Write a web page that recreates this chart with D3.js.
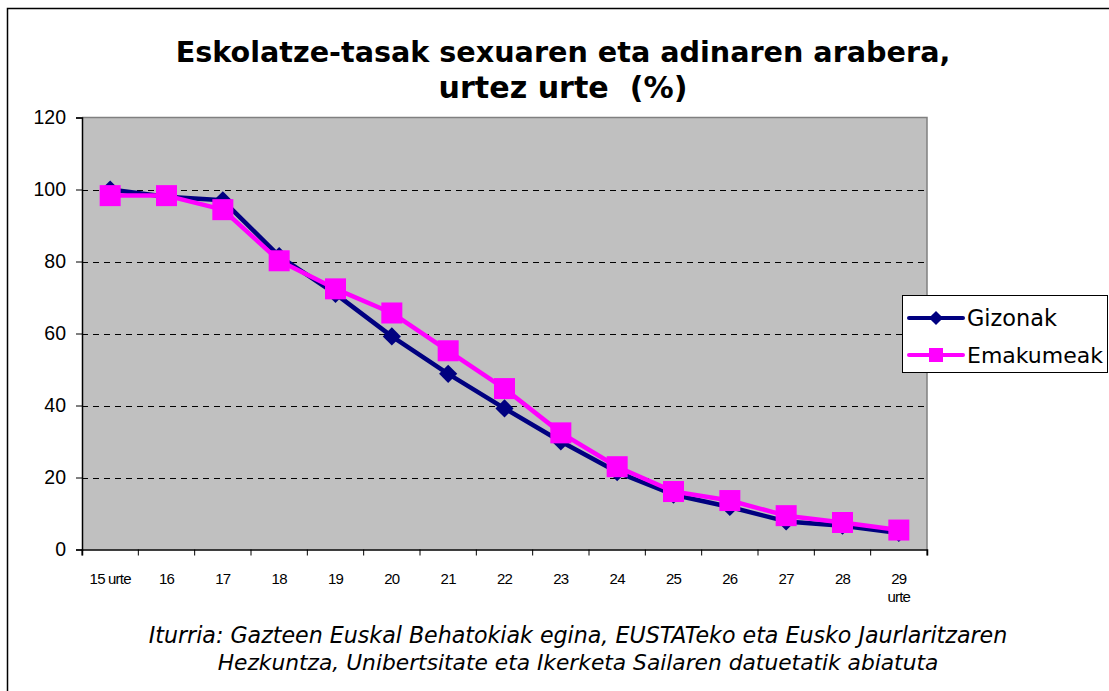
<!DOCTYPE html>
<html><head><meta charset="utf-8">
<script src="https://cdn.jsdelivr.net/npm/d3@7"></script>
<style>html,body{margin:0;padding:0;background:#fff;}svg{display:block;}</style>
</head><body>
<svg id="chart" width="1109" height="691"></svg>
<script>
const categories = ["15 urte","16","17","18","19","20","21","22","23","24","25","26","27","28","29\nurte"];
const gizonak    = [100, 98, 97, 81.5, 71, 59.2, 48.8, 39.2, 30, 21.5, 15.2, 11.8, 7.8, 6.6, 4.6];
const emakumeak  = [98.3, 98.3, 94.4, 80.2, 72.4, 65.7, 55.2, 44.7, 32.4, 23, 16.1, 13.6, 9.4, 7.5, 5.4];
const yTicks     = [0, 20, 40, 60, 80, 100, 120];
const titleLines = ["Eskolatze-tasak sexuaren eta adinaren arabera,", "urtez urte  (%)"];
const footLines  = ["Iturria: Gazteen Euskal Behatokiak egina, EUSTATeko eta Eusko Jaurlaritzaren",
                    "Hezkuntza, Unibertsitate eta Ikerketa Sailaren datuetatik abiatuta"];
const seriesNames = ["Gizonak", "Emakumeak"];

const svg = d3.select("#chart");
svg.append("rect").attr("x",7.5).attr("y",8.5).attr("width",1120).attr("height",700)
  .attr("fill","#fff").attr("stroke","#000").attr("stroke-width",1.5);

const L = 82, R = 927, T = 117.5, B = 549.5;
const x = d3.scaleBand().domain(categories).range([L, R]).padding(0);
const y = d3.scaleLinear().domain([0,120]).range([B, T]);

function fit(sel, w){
  const n = sel.node(); let fs = parseFloat(sel.attr("font-size"));
  const cw = n.getComputedTextLength(); if (cw>0) sel.attr("font-size", fs*w/cw);
}

// title
const tw = [775, 249];
titleLines.forEach((t,i)=>{
  const s = svg.append("text").attr("x",563).attr("y", i===0?62:98).attr("text-anchor","middle")
    .attr("font-family","DejaVu Sans, Verdana, sans-serif").attr("font-weight","bold")
    .attr("font-size",24).style("white-space","pre").attr("fill","#000").text(t);
  fit(s, tw[i]);
});

// plot background
svg.append("rect").attr("x",L).attr("y",T).attr("width",R-L).attr("height",B-T).attr("fill","#c0c0c0");
// gridlines
svg.append("g").selectAll("line").data(yTicks.filter(d=>d>0 && d<120)).join("line")
  .attr("x1",L).attr("x2",R).attr("y1",d=>Math.round(y(d))+0.5).attr("y2",d=>Math.round(y(d))+0.5)
  .attr("stroke","#000").attr("stroke-dasharray","6,5").attr("stroke-width",1);
// plot border top/right
svg.append("path").attr("d",`M${L},${T}H${R}V${B}`).attr("fill","none").attr("stroke","#808080").attr("stroke-width",1.5);

// y axis
const yAxis = d3.axisLeft(y).tickValues(yTicks).tickSize(6).tickPadding(10);
const gy = svg.append("g").attr("transform",`translate(${L},0)`).call(yAxis);
gy.select(".domain").attr("stroke","#000").attr("stroke-width",1.5);
gy.selectAll(".tick line").attr("stroke","#000");
gy.selectAll("text").attr("font-family","Liberation Sans, Arial, sans-serif").attr("font-size",19.5).attr("fill","#000");

// x axis
const xAxis = d3.axisBottom(x).tickSize(6).tickFormat(()=>"");
const gx = svg.append("g").attr("transform",`translate(0,${B})`).call(xAxis);
gx.select(".domain").attr("stroke","#000").attr("stroke-width",1.5);
gx.selectAll(".tick").remove();
gx.selectAll("line.bt").data(categories.map((c,i)=>i).concat([categories.length])).join("line").attr("class","bt")
  .attr("x1",i=>L + i*x.bandwidth()).attr("x2",i=>L + i*x.bandwidth()).attr("y1",0).attr("y2",6).attr("stroke","#000");
const lab = svg.append("g");
categories.forEach(c=>{
  const parts = c.split("\n");
  const t = lab.append("text").attr("x", x(c)+x.bandwidth()/2).attr("y",584).attr("text-anchor","middle")
    .attr("font-family","Liberation Sans, Arial, sans-serif").attr("font-size",15).attr("fill","#000").attr("letter-spacing", -0.8);
  parts.forEach((p,j)=>t.append("tspan").attr("x", x(c)+x.bandwidth()/2).attr("dy", j===0?0:18).text(p));
});

// series
const cx = c => x(c)+x.bandwidth()/2;
const line = d3.line().x((d,i)=>cx(categories[i])).y(d=>y(d));

svg.append("path").datum(gizonak).attr("d",line).attr("fill","none").attr("stroke","#000080").attr("stroke-width",4.5).attr("stroke-linejoin","round");
svg.append("g").selectAll("path").data(gizonak).join("path")
  .attr("d", d3.symbol().type(d3.symbolSquare).size(165))
  .attr("transform",(d,i)=>`translate(${cx(categories[i])},${y(d)}) rotate(45)`)
  .attr("fill","#000080");

svg.append("path").datum(emakumeak).attr("d",line).attr("fill","none").attr("stroke","#ff00ff").attr("stroke-width",4.5).attr("stroke-linejoin","round");
svg.append("g").selectAll("rect").data(emakumeak).join("rect")
  .attr("x",(d,i)=>cx(categories[i])-10.5).attr("y",d=>y(d)-10.5).attr("width",21).attr("height",21)
  .attr("fill","#ff00ff");

// legend
const lg = svg.append("g");
lg.append("rect").attr("x",902.5).attr("y",295.5).attr("width",205).attr("height",77).attr("fill","#fff").attr("stroke","#000").attr("stroke-width",1);
const colors = ["#000080","#ff00ff"];
const lw = [90, 136];
seriesNames.forEach((n,i)=>{
  const yy = i===0?318:355;
  lg.append("line").attr("x1",909).attr("x2",963).attr("y1",yy).attr("y2",yy).attr("stroke",colors[i]).attr("stroke-width",4).attr("stroke-linecap","round");
  if(i===0){
    lg.append("path").attr("d", d3.symbol().type(d3.symbolSquare).size(100)).attr("transform",`translate(936,${yy}) rotate(45)`).attr("fill",colors[i]);
  } else {
    lg.append("rect").attr("x",929).attr("y",yy-7).attr("width",14).attr("height",14).attr("fill",colors[i]);
  }
  const s = lg.append("text").attr("x",967).attr("y",yy+7.5).attr("font-family","DejaVu Sans, Verdana, sans-serif").attr("font-size",20).attr("fill","#000").text(n);
  fit(s, lw[i]);
});

// footer
const fw = [859, 721];
footLines.forEach((t,i)=>{
  const s = svg.append("text").attr("x",578).attr("y", i===0?643:670).attr("text-anchor","middle")
    .attr("font-family","DejaVu Sans, Verdana, sans-serif").attr("font-style","italic")
    .attr("font-size",18).attr("fill","#000").text(t);
  fit(s, fw[i]);
});
</script>
</body></html>
